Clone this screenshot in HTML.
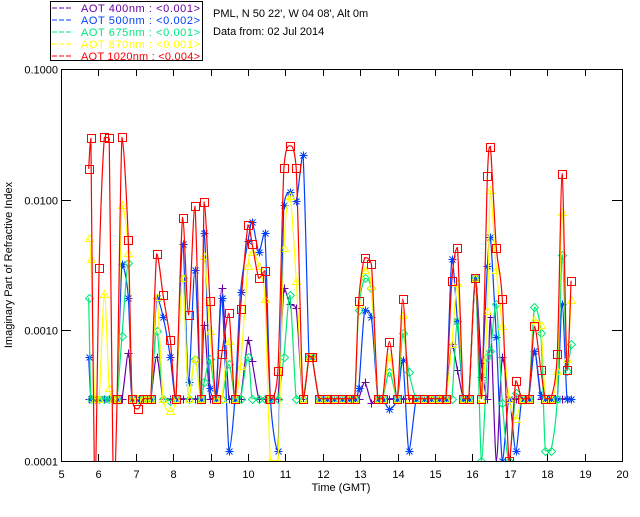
<!DOCTYPE html>
<html><head><meta charset="utf-8"><style>
html,body{margin:0;padding:0;background:#fff;}
svg text{font-family:"Liberation Sans",sans-serif;font-size:11px;}
</style></head><body>
<svg id="chart" width="640" height="512" viewBox="0 0 640 512" xmlns="http://www.w3.org/2000/svg">
<defs><clipPath id="pc"><rect x="61" y="69" width="561" height="392"/></clipPath></defs>
<rect width="640" height="512" fill="#fff"/>
<g id="legend">
<rect x="50.5" y="1.5" width="152" height="59" fill="none" stroke="#000"/>
</g>
<text x="213" y="17">PML, N 50 22', W 04 08', Alt 0m</text>
<text x="213" y="35">Data from: 02 Jul 2014</text>
<g id="axes"></g>
<g id="series" clip-path="url(#pc)"></g>
<text x="341" y="491" text-anchor="middle">Time (GMT)</text>
<text transform="translate(12,265) rotate(-90)" text-anchor="middle">Imaginary Part of Refractive Index</text>
</svg>
<script>
const times=[5.74,5.80,5.90,6.02,6.16,6.29,6.40,6.50,6.63,6.80,6.90,7.06,7.20,7.30,7.40,7.56,7.73,7.92,8.07,8.25,8.41,8.58,8.74,8.83,8.98,9.14,9.30,9.49,9.65,9.80,10.0,10.11,10.29,10.45,10.6,10.8,10.96,11.12,11.29,11.47,11.63,11.71,11.9,12.1,12.3,12.5,12.7,12.85,12.96,13.12,13.3,13.47,13.6,13.78,13.99,14.14,14.3,14.5,14.7,14.9,15.1,15.29,15.45,15.60,15.76,15.9,16.08,16.24,16.40,16.48,16.64,16.80,16.98,17.16,17.32,17.5,17.66,17.83,17.95,18.1,18.27,18.40,18.53,18.64];
const v400=[.0003,.0003,.0003,.0003,.0003,.0003,.0003,.0003,.0003,.00067,.0003,.0003,.0003,.0003,.0003,.00063,.0003,.0003,.0003,.0003,.0003,.0003,.0003,.0011,.0003,.0003,.0021,.0003,.0003,.0003,.00085,.00058,.0003,.0003,.0003,.0003,.0021,.0016,.00147,.0003,.00063,.00063,.0003,.0003,.0003,.0003,.0003,.0003,.0003,.0004,.00028,.0003,.0003,.0003,.0003,.0003,.0003,.0003,.0003,.0003,.0003,.0003,.00078,.0005,.0003,.0003,.0025,.00056,.0003,.00126,.0001,.00063,.0003,.0003,.0003,.0003,.0007,.0003,.0003,.0003,.0003,.0003,.0003,.0003];
const v500=[.00063,.0003,.0003,.0003,.0003,.0003,.0003,.0003,.0032,.00178,.0003,.0003,.0003,.0003,.0003,.00178,.00127,.00063,.0003,.0046,.0004,.0029,.0003,.0056,.00036,.0003,.00178,.00012,.0003,.00196,.0048,.0068,.004,.0056,.0003,.00012,.0091,.0114,.0097,.0219,.00063,.00063,.0003,.0003,.0003,.0003,.0003,.0003,.00036,.00143,.00126,.0003,.0003,.00025,.0003,.00059,.00012,.0003,.0003,.0003,.0003,.0003,.0035,.00117,.0003,.0003,.0025,.00044,.0031,.0052,.00089,.0001,.0003,.00012,.0003,.0003,.0007,.00032,.0003,.0003,.0003,.00159,.0003,.0003];
const v675=[.00178,.0003,.0003,.0003,.0003,.0003,.0003,.0003,.00091,.0033,.0003,.0003,.0003,.0003,.0003,.00098,.0003,.00029,.0003,.0025,.0003,.0006,.0003,.0004,.0006,.0003,.0003,.00055,.0003,.0003,.00063,.0003,.0003,.0003,.0003,.0003,.00063,.00186,.0003,.0003,.00063,.00063,.0003,.0003,.0003,.0003,.0003,.0003,.00143,.0025,.0021,.0003,.0003,.00048,.0003,.00095,.00048,.0003,.0003,.0003,.0003,.0003,.0003,.00117,.0003,.0003,.0025,.0001,.00063,.0007,.0016,.00028,.0001,.00033,.0003,.0003,.0015,.00095,.00012,.00012,.0003,.0038,.00049,.00079];
const v870=[.0051,.0035,.0003,.0003,.0019,.00036,.0003,.0003,.0091,.0039,.0003,.0003,.0003,.0003,.0003,.0018,.0003,.00024,.0003,.0025,.0003,.0006,.0003,.0037,.00098,.0003,.0003,.00083,.0003,.00053,.0031,.004,.0031,.00174,.0001,.0001,.0043,.0107,.0024,.0003,.00063,.00063,.0003,.0003,.0003,.0003,.0003,.0003,.0016,.0029,.0022,.0003,.0003,.00063,.0003,.0013,.0003,.0003,.0003,.0003,.0003,.0003,.00078,.0023,.0003,.0003,.0025,.0003,.0014,.0118,.0029,.00107,.0003,.00021,.0003,.0003,.0012,.0011,.0003,.0003,.00049,.008,.0006,.0017];
const v1020=[.0172,.0295,.00005,.003,.030,.0295,.00005,.0003,.030,.0049,.0003,.00025,.0003,.0003,.0003,.00385,.00186,.00085,.0003,.0073,.00131,.0089,.0003,.0096,.00168,.0003,.00066,.00135,.0003,.00145,.0064,.0046,.0025,.00285,.0003,.00049,.0174,.0259,.0174,.0003,.00063,.00063,.0003,.0003,.0003,.0003,.0003,.0003,.00168,.0036,.0032,.0003,.0003,.00082,.0003,.00174,.0003,.0003,.0003,.0003,.0003,.0003,.0024,.0043,.0003,.0003,.0025,.0003,.0153,.0255,.0043,.00174,.0001,.00041,.0003,.0003,.00107,.0005,.0003,.0003,.00066,.0158,.0005,.0024];
const xTicks=[5,6,7,8,9,10,11,12,13,14,15,16,17,18,19,20];
const yTicks=[0.1,0.01,0.001,0.0001];
const yTickLabels=["0.1000","0.0100","0.0010","0.0001"];
const legendLabels=["AOT  400nm : <0.001>","AOT  500nm : <0.002>","AOT  675nm : <0.001>","AOT  870nm : <0.001>","AOT 1020nm : <0.004>"];

const NS="http://www.w3.org/2000/svg";
const L=61,R=622,T=69,B=461;
const xs=t=>L+(t-5)/(20-5)*(R-L);
const ys=v=>T+(-1-Math.log10(v))/3*(B-T);
function mk(tag,attrs,parent){const e=document.createElementNS(NS,tag);for(const k in attrs)e.setAttribute(k,attrs[k]);parent.appendChild(e);return e;}
const axes=document.getElementById('axes');
let a=mk('rect',{x:L+.5,y:T+.5,width:R-L,height:B-T,fill:'none',stroke:'#000'},axes);


xTicks.forEach(t=>{const x=Math.round(xs(t))+.5;
 mk('line',{x1:x,y1:B,x2:x,y2:B-7,stroke:'#000'},axes);
 mk('line',{x1:x,y1:T,x2:x,y2:T+7,stroke:'#000'},axes);
 const tx=mk('text',{x:x,y:B+17,'text-anchor':'middle'},axes);tx.textContent=t;
 
 
});
yTicks.forEach((v,i)=>{const y=Math.round(ys(v))+.5;
 mk('line',{x1:L,y1:y,x2:L+10,y2:y,stroke:'#000'},axes);
 mk('line',{x1:R-10,y1:y,x2:R,y2:y,stroke:'#000'},axes);
 const tx=mk('text',{x:L-3,y:y+4,'text-anchor':'end'},axes);tx.textContent=yTickLabels[i];
 
 
});
const series=[
 {name:'aot-400nm',vals:v400,color:'#6a00a8',m:'plus'},
 {name:'aot-500nm',vals:v500,color:'#0040ff',m:'star'},
 {name:'aot-675nm',vals:v675,color:'#00e87a',m:'diamond'},
 {name:'aot-870nm',vals:v870,color:'#ffff00',m:'tri'},
 {name:'aot-1020nm',vals:v1020,color:'#ff0000',m:'square'}];
const sg=document.getElementById('series');
const clamp=(v,a,b)=>Math.max(Math.min(a,b),Math.min(Math.max(a,b),v));
function path(pts){let d='M'+pts[0][0]+','+pts[0][1];const k=7;
 for(let i=0;i<pts.length-1;i++){const p0=pts[Math.max(i-1,0)],p1=pts[i],p2=pts[i+1],p3=pts[Math.min(i+2,pts.length-1)];
  const c1=[p1[0]+(p2[0]-p0[0])/k,clamp(p1[1]+(p2[1]-p0[1])/k,p1[1],p2[1])],c2=[p2[0]-(p3[0]-p1[0])/k,clamp(p2[1]-(p3[1]-p1[1])/k,p1[1],p2[1])];
  d+=' C'+c1[0].toFixed(1)+','+c1[1].toFixed(1)+' '+c2[0].toFixed(1)+','+c2[1].toFixed(1)+' '+p2[0].toFixed(1)+','+p2[1].toFixed(1);}
 return d;}
function marker(g,m,x,y,c){const s=4;
 if(m==='plus'){mk('path',{d:`M${x-s},${y}H${x+s}M${x},${y-s}V${y+s}`,stroke:c,fill:'none'},g);}
 else if(m==='star'){mk('path',{d:`M${x-s},${y}H${x+s}M${x},${y-s}V${y+s}M${x-3},${y-3}L${x+3},${y+3}M${x-3},${y+3}L${x+3},${y-3}`,stroke:c,fill:'none'},g);}
 else if(m==='diamond'){mk('path',{d:`M${x},${y-s}L${x+s},${y}L${x},${y+s}L${x-s},${y}Z`,stroke:c,fill:'none'},g);}
 else if(m==='tri'){mk('path',{d:`M${x},${y-s}L${x+s},${y+s-1}L${x-s},${y+s-1}Z`,stroke:c,fill:'none'},g);}
 else {mk('rect',{x:x-4,y:y-4,width:8,height:8,stroke:c,fill:'none'},g);}
}
series.forEach(s=>{
 const g=mk('g',{},sg);
 
 
 const pts=times.map((t,i)=>[xs(t),ys(s.vals[i])]);
 const p=mk('path',{d:path(pts),fill:'none',stroke:s.color,'stroke-width':1.2},g);
 
 
 pts.forEach(q=>marker(g,s.m,Math.round(q[0])+.5,Math.round(q[1])+.5,s.color));
});
const lg=document.getElementById('legend');
series.forEach((s,i)=>{const y=8+i*12;
 mk('line',{x1:52,y1:y,x2:73,y2:y,stroke:s.color,'stroke-dasharray':'5,2'},lg);
 const tx=mk('text',{x:81,y:y+4,fill:s.color,'xml:space':'preserve',textLength:119,lengthAdjust:'spacing'},lg);tx.textContent=legendLabels[i];
 
 
});
</script>
</body></html>
